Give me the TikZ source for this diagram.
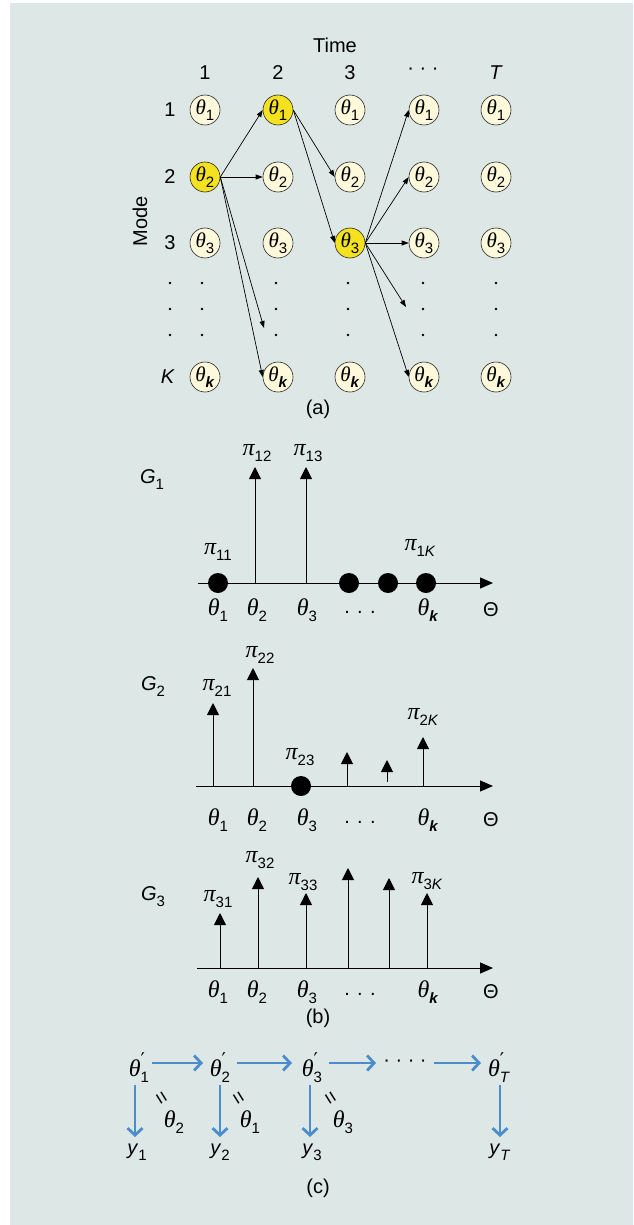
\documentclass[tikz,border=0pt]{standalone}
\usepackage{fontspec}
\setmainfont{Liberation Sans}
\newfontfamily\gkf{Liberation Serif}
\newfontfamily\djv{DejaVu Sans}
\usetikzlibrary{arrows.meta}
\definecolor{bgc}{RGB}{221,232,230}
\definecolor{cream}{RGB}{253,249,218}
\definecolor{yel}{RGB}{244,226,32}
\definecolor{blu}{RGB}{75,141,204}
\newcommand\gth{{\fontsize{24}{24}\selectfont\gkf\itshape θ}}
\newcommand\gthc{{\fontsize{21}{21}\selectfont\gkf\itshape θ}}
\newcommand\gpi{{\fontsize{24}{24}\selectfont\gkf\itshape π}}
\newcommand\sbs[1]{\raisebox{-0.3em}{\fontsize{15}{15}\selectfont #1}}
\newcommand\kk{\textbf{\textit{k}}}
\newcommand\thp[1]{\gth\rlap{\raisebox{0.5em}{\fontsize{19}{19}\selectfont\djv ′}}\sbs{#1}}
\newcommand\gsub[1]{\textit{G}\sbs{#1}}
\tikzset{
  lbl/.style={inner sep=1pt, font=\fontsize{20}{22}\selectfont},
  st/.style={circle, draw=black!85, fill=cream, minimum size=30pt, inner sep=0pt, line width=0.6pt, font=\fontsize{19}{19}\selectfont},
  hl/.style={st, fill=yel},
  arr/.style={line width=0.7pt, -{Triangle[length=7pt,width=5pt]}},
  axis/.style={line width=1pt, -{Triangle[length=13pt,width=11pt]}},
  stem/.style={line width=0.9pt, -{Triangle[length=12pt,width=12pt]}},
  mt/.style={inner sep=1pt, font=\fontsize{20}{22}\selectfont},
  barr/.style={draw=blu, line width=2.8pt, -{Straight Barb[length=7pt,width=15pt]}},
  eqm/.style={inner sep=0pt, rotate=-58, font=\fontsize{21}{21}\selectfont}
}
\begin{document}
\begin{tikzpicture}[x=1pt,y=-1pt]
\useasboundingbox (0,0) rectangle (633,1225);
\fill[bgc] (10,3) rectangle (633,1225);

% ---------- panel (a)
\node[lbl] (time) at (335,45) {Time};
\node[lbl] (h1) at (205,73) {1};
\node[lbl] (h2) at (278,73) {2};
\node[lbl] (h3) at (350,73) {3};
\node[lbl] (h4) at (423,71) {· · ·};
\node[lbl] (h5) at (496,73) {\textit{T}};
\node[lbl] (r1) at (170,110) {1};
\node[lbl] (r2) at (170,177) {2};
\node[lbl] (r3) at (170,243) {3};
\node[lbl] (rk) at (168,377) {\textit{K}};
\node[lbl, rotate=90] (mode) at (140,221) {Mode};

\foreach \c/\x/\sa/\sb/\sc in {1/205/st/hl/st,2/278/hl/st/st,3/350/st/st/hl,4/424/st/st/st,5/496/st/st/st}{
  \node[\sa] (n\c-1) at (\x,110) {\gthc\sbs{1}};
  \node[\sb] (n\c-2) at (\x,177) {\gthc\sbs{2}};
  \node[\sc] (n\c-3) at (\x,243) {\gthc\sbs{3}};
  \node[st] (n\c-k) at (\x,377) {\gthc\sbs{\kk}};
}
\foreach \x in {170,202,276,348,423,496}
  \foreach \y in {283,309,335}
    \fill (\x,\y) circle (1.4pt);

\coordinate (d2) at (264,328);
\coordinate (d4) at (406,307);
\draw[arr] (n1-2.east) -- (n2-1.west);
\draw[arr] (n1-2.east) -- (n2-2.west);
\draw[arr] (n1-2.east) -- (d2);
\draw[arr] (n1-2.east) -- (n2-k.west);
\draw[arr] (n2-1.east) -- (n3-2.west);
\draw[arr] (n2-1.east) -- (n3-3.west);
\draw[arr] (n3-3.east) -- (n4-1.west);
\draw[arr] (n3-3.east) -- (n4-2.west);
\draw[arr] (n3-3.east) -- (n4-3.west);
\draw[arr] (n3-3.east) -- (d4);
\draw[arr] (n3-3.east) -- (n4-k.west);
\node[lbl] (capa) at (318,409) {(a)};

% ---------- panel (b): G1
\node[lbl] (g1) at (152,480) {\gsub{1}};
\coordinate (o1) at (198,583); \coordinate (e1) at (493,583);
\draw[axis] (o1) -- (e1);
\foreach \i/\x/\t in {2/255/467, 3/306/467}{
  \coordinate (b1\i) at (\x,583); \coordinate (t1\i) at (\x,\t);
  \draw[stem] (b1\i) -- (t1\i);
}
\foreach \x in {218,349,388,426} \fill (\x,583) circle (10pt);
\node[mt] (p11) at (218,552) {\gpi\sbs{11}};
\node[mt] (p12) at (257,453) {\gpi\sbs{12}};
\node[mt] (p13) at (308,453) {\gpi\sbs{13}};
\node[mt] (p1k) at (420,548) {\gpi\sbs{1\textit{K}}};
\node[mt] (x11) at (218,610) {\gth\sbs{1}};
\node[mt] (x12) at (257,610) {\gth\sbs{2}};
\node[mt] (x13) at (307,610) {\gth\sbs{3}};
\node[mt] (x14) at (360,612) {. . .};
\node[mt] (x1k) at (428,610) {\gth\sbs{\kk}};
\node[mt] (x1t) at (491,610) {Θ};

% ---------- G2
\node[lbl] (g2) at (153,687) {\gsub{2}};
\coordinate (o2) at (196,786); \coordinate (e2) at (493,786);
\draw[axis] (o2) -- (e2);
\foreach \i/\x/\b/\t in {1/213/786/703, 2/253/786/668, 4/347/786/752, 5/387/782/760, 6/423/786/737}{
  \coordinate (b2\i) at (\x,\b); \coordinate (t2\i) at (\x,\t);
  \draw[stem] (b2\i) -- (t2\i);
}
\fill (301,786) circle (10pt);
\node[mt] (p21) at (217,688) {\gpi\sbs{21}};
\node[mt] (p22) at (260,655) {\gpi\sbs{22}};
\node[mt] (p23) at (300,757) {\gpi\sbs{23}};
\node[mt] (p2k) at (423,717) {\gpi\sbs{2\textit{K}}};
\node[mt] (x21) at (218,820) {\gth\sbs{1}};
\node[mt] (x22) at (257,820) {\gth\sbs{2}};
\node[mt] (x23) at (307,820) {\gth\sbs{3}};
\node[mt] (x24) at (360,822) {. . .};
\node[mt] (x2k) at (428,820) {\gth\sbs{\kk}};
\node[mt] (x2t) at (491,820) {Θ};

% ---------- G3
\node[lbl] (g3) at (153,897) {\gsub{3}};
\coordinate (o3) at (197,968); \coordinate (e3) at (493,968);
\draw[axis] (o3) -- (e3);
\foreach \i/\x/\t in {1/220/913, 2/258/877, 3/306/893, 4/348/868, 5/389/878, 6/427/893}{
  \coordinate (b3\i) at (\x,968); \coordinate (t3\i) at (\x,\t);
  \draw[stem] (b3\i) -- (t3\i);
}
\node[mt] (p31) at (218,899) {\gpi\sbs{31}};
\node[mt] (p32) at (260,860) {\gpi\sbs{32}};
\node[mt] (p33) at (303,882) {\gpi\sbs{33}};
\node[mt] (p3k) at (427,881) {\gpi\sbs{3\textit{K}}};
\node[mt] (x31) at (218,992) {\gth\sbs{1}};
\node[mt] (x32) at (257,992) {\gth\sbs{2}};
\node[mt] (x33) at (307,992) {\gth\sbs{3}};
\node[mt] (x34) at (360,994) {. . .};
\node[mt] (x3k) at (428,992) {\gth\sbs{\kk}};
\node[mt] (x3t) at (491,992) {Θ};
\node[lbl] (capb) at (318,1018) {(b)};

% ---------- panel (c)
\node[mt] (q1) at (139,1068) {\thp{1}};
\node[mt] (q2) at (220,1068) {\thp{2}};
\node[mt] (q3) at (312,1068) {\thp{3}};
\node[mt] (qd) at (405,1063) {· · · ·};
\node[mt] (qT) at (499,1068) {\thp{\textit{T}}};
\node[mt] (y1) at (137,1152) {\textit{y}\sbs{1}};
\node[mt] (y2) at (220,1152) {\textit{y}\sbs{2}};
\node[mt] (y3) at (312,1152) {\textit{y}\sbs{3}};
\node[mt] (yT) at (500,1152) {\textit{y}\sbs{\textit{T}}};
\coordinate (a1) at (152,1063); \coordinate (a2) at (203,1063);
\coordinate (a3) at (237,1063); \coordinate (a4) at (292,1063);
\coordinate (a5) at (329,1063); \coordinate (a6) at (376,1063);
\coordinate (a7) at (434,1063); \coordinate (a8) at (481,1063);
\draw[barr] (a1) -- (a2);
\draw[barr] (a3) -- (a4);
\draw[barr] (a5) -- (a6);
\draw[barr] (a7) -- (a8);
\foreach \x in {135,220,310,500}{
  \draw[barr] (\x,1085) -- (\x,1137);
}
\node[eqm] (m1) at (160,1099) {=};
\node[mt] (l1) at (174,1122) {\gth\sbs{2}};
\node[eqm] (m2) at (237,1099) {=};
\node[mt] (l2) at (250,1122) {\gth\sbs{1}};
\node[eqm] (m3) at (329,1099) {=};
\node[mt] (l3) at (343,1122) {\gth\sbs{3}};
\node[lbl] (capc) at (318,1188) {(c)};
\end{tikzpicture}
\end{document}
